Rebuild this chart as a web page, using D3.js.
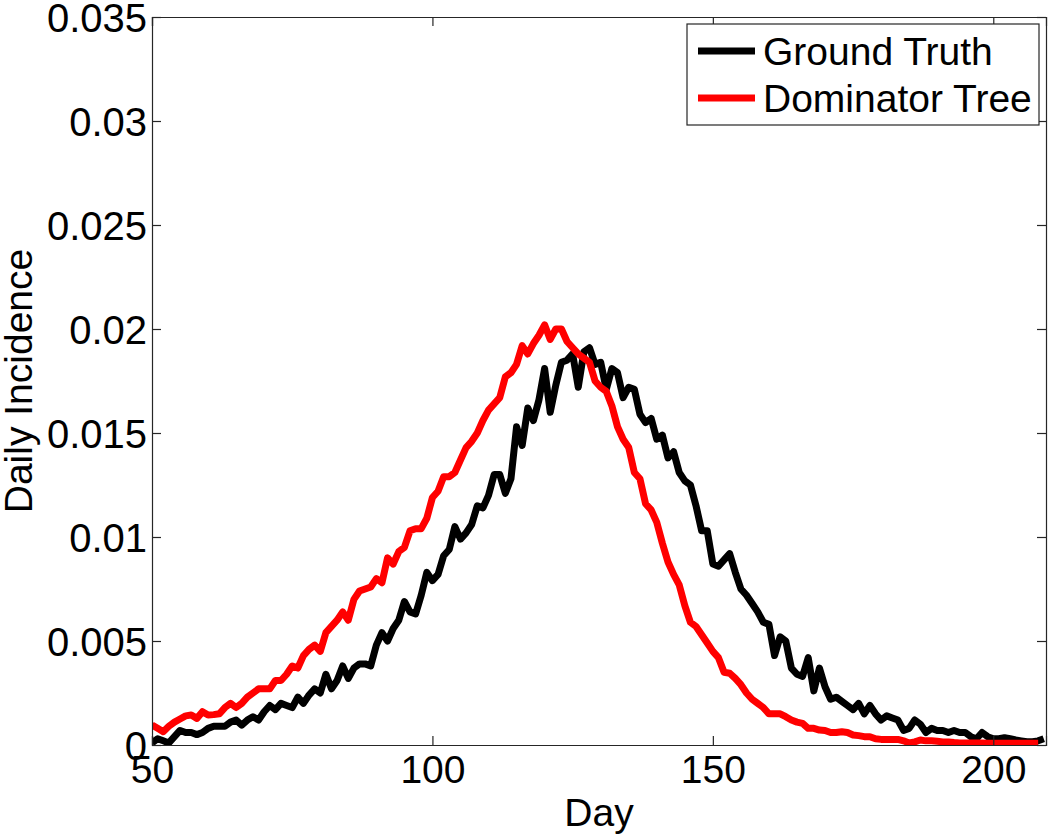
<!DOCTYPE html>
<html><head><meta charset="utf-8">
<script src="https://cdn.jsdelivr.net/npm/d3@7"></script>
<style>body{margin:0;background:#fff}svg{display:block}text{font-family:"Liberation Sans",Arial,sans-serif;fill:#000}</style>
</head><body>
<script>
const groundTruthStart = 50;
const groundTruth = [0.0001,0.0003,0.0002,0.0001,0.0004,0.0007,0.0006,0.0006,0.0005,0.0006,
0.0008,0.0009,0.0009,0.0009,0.0011,0.0012,0.00096,0.0012,0.00136,0.0012,
0.0016,0.0019,0.0017,0.002,0.0019,0.0018,0.0023,0.002,0.0024,0.0027,
0.0025,0.0034,0.0027,0.0031,0.0038,0.0032,0.0037,0.0039,0.0039,0.0038,
0.0048,0.0054,0.005,0.0056,0.006,0.0069,0.0064,0.0063,0.0072,0.0083,
0.0079,0.0082,0.0091,0.0094,0.0105,0.0099,0.0102,0.0106,0.0115,0.0114,
0.012,0.013,0.013,0.0121,0.0128,0.0153,0.0144,0.0162,0.0156,0.0166,
0.0181,0.016,0.0173,0.0184,0.0185,0.0188,0.0172,0.0189,0.0191,0.0183,
0.0184,0.0171,0.0181,0.0179,0.0167,0.0172,0.0171,0.0159,0.0155,0.0157,
0.0147,0.0149,0.0138,0.0141,0.0131,0.0127,0.0125,0.0115,0.0103,0.0103,
0.0087,0.0086,0.0089,0.0092,0.0083,0.0075,0.0072,0.0068,0.0064,0.0059,
0.0058,0.0043,0.0052,0.005,0.0037,0.0034,0.0033,0.0042,0.0026,0.0037,
0.0028,0.0022,0.0023,0.0021,0.0019,0.0017,0.002,0.0015,0.0019,0.0015,
0.0012,0.0014,0.0013,0.0012,0.0007,0.0008,0.0012,0.001,0.0006,0.0008,
0.0007,0.0007,0.0006,0.0007,0.0006,0.0006,0.0004,0.0003,0.0006,0.0004,
0.0003,0.0003,0.00035,0.0003,0.00024,0.0002,0.00016,0.00016,0.0002,0.0003];
const dominatorStart = 50;
const dominatorTree = [0.00096,0.0008,0.00064,0.0009,0.0011,0.00125,0.0014,0.00144,0.00128,0.0016,
0.00144,0.00146,0.0015,0.0018,0.002,0.0018,0.002,0.0023,0.0025,0.0027,
0.0027,0.0027,0.0031,0.0031,0.0034,0.0038,0.0037,0.0043,0.0046,0.0048,
0.0045,0.0054,0.0057,0.006,0.0064,0.006,0.007,0.0074,0.0075,0.0076,
0.008,0.0078,0.009,0.0087,0.0093,0.0095,0.0103,0.0104,0.0104,0.0109,
0.0119,0.0122,0.0129,0.0129,0.0131,0.0137,0.0143,0.0146,0.015,0.0156,
0.0161,0.0164,0.0167,0.0177,0.0179,0.0183,0.0192,0.0188,0.0193,0.0197,
0.0202,0.0195,0.02,0.02,0.0194,0.0191,0.0188,0.0186,0.0184,0.0175,
0.0172,0.017,0.0163,0.0153,0.0147,0.0143,0.0131,0.0128,0.0116,0.0113,
0.0107,0.0097,0.0088,0.0082,0.0077,0.0067,0.0059,0.0057,0.0053,0.0049,
0.0045,0.0042,0.0035,0.00345,0.0032,0.0029,0.0025,0.0022,0.002,0.0018,
0.0015,0.0015,0.0015,0.00136,0.0012,0.0011,0.00104,0.0008,0.0008,0.00072,
0.0007,0.0006,0.0006,0.00064,0.0006,0.00048,0.00045,0.0004,0.0004,0.0003,
0.00027,0.00027,0.00027,0.00027,0.0002,0.0001,0.00015,0.00024,0.0002,0.0002,
0.00018,0.00015,0.00015,0.00012,0.0001,0.0001,0.0001,0.0001,0.0001,0.00008,
0.00008,0.00008,0.00008,0.00008,0.00008,0.00008,0.00008,0.00008,0.00008];
const xTicks = [50,100,150,200];
const yTicks = [0,0.005,0.01,0.015,0.02,0.025,0.03,0.035];
const yTickLabels = ["0","0.005","0.01","0.015","0.02","0.025","0.03","0.035"];
const seriesNames = ["Ground Truth","Dominator Tree"];
const seriesColors = ["#000000","#ff0000"];

const W=1050,H=834;
const L=152,R=1046,T=17,B=745;
const x=d3.scaleLinear().domain([50,209.4]).range([L,R]);
const y=d3.scaleLinear().domain([0,0.035]).range([B,T]);
const svg=d3.select("body").append("svg").attr("width",W).attr("height",H);

svg.append("clipPath").attr("id","c").append("rect").attr("x",L).attr("y",T-5).attr("width",R-L).attr("height",B-T+5);
const line=d3.line().x(d=>x(d[0])).y(d=>y(d[1])).curve(d3.curveLinear);
const gt=groundTruth.map((v,i)=>[groundTruthStart+i,v]);
const dt=dominatorTree.map((v,i)=>[dominatorStart+i,v]);
const g=svg.append("g").attr("clip-path","url(#c)");
g.append("path").datum(gt).attr("d",line).attr("fill","none").attr("stroke",seriesColors[0]).attr("stroke-width",7).attr("stroke-linejoin","round");
g.append("path").datum(dt).attr("d",line).attr("fill","none").attr("stroke",seriesColors[1]).attr("stroke-width",7).attr("stroke-linejoin","round");

const tk=9;
const axB=svg.append("g").attr("transform",`translate(0,${B})`).call(d3.axisBottom(x).tickValues(xTicks).tickSize(-tk).tickPadding(12).tickFormat(d3.format("d")));
const axT=svg.append("g").attr("transform",`translate(0,${T})`).call(d3.axisTop(x).tickValues(xTicks).tickSize(-tk).tickFormat(""));
const axL=svg.append("g").attr("transform",`translate(${L},0)`).call(d3.axisLeft(y).tickValues(yTicks).tickSize(-tk).tickPadding(6).tickFormat((d,i)=>yTickLabels[i]));
const axR=svg.append("g").attr("transform",`translate(${R},0)`).call(d3.axisRight(y).tickValues(yTicks).tickSize(-tk).tickFormat(""));
[axB,axT,axL,axR].forEach(a=>{a.select(".domain").attr("stroke","#262626").attr("stroke-width",1.2);a.selectAll(".tick line").attr("stroke","#262626").attr("stroke-width",1.2);});
axB.selectAll(".tick text").attr("font-size",39).attr("dy","0.71em").attr("y",10);
axL.selectAll(".tick text").attr("font-size",40).attr("x",-5).attr("dy","0.36em");

svg.append("text").attr("x",(L+R)/2).attr("y",826).attr("text-anchor","middle").attr("font-size",39).text("Day");
svg.append("text").attr("transform",`translate(32,${(T+B)/2}) rotate(-90)`).attr("text-anchor","middle").attr("font-size",39).text("Daily Incidence");

const lg=svg.append("g");
lg.append("rect").attr("x",687).attr("y",24).attr("width",352).attr("height",101).attr("fill","#fff").attr("stroke","#262626").attr("stroke-width",1.2);
seriesNames.forEach((n,i)=>{
  const yy=51+i*47;
  lg.append("line").attr("x1",698).attr("x2",755).attr("y1",yy).attr("y2",yy).attr("stroke",seriesColors[i]).attr("stroke-width",7);
  lg.append("text").attr("x",763).attr("y",yy).attr("dy","0.36em").attr("font-size",39).text(n);
});
</script>
</body></html>
